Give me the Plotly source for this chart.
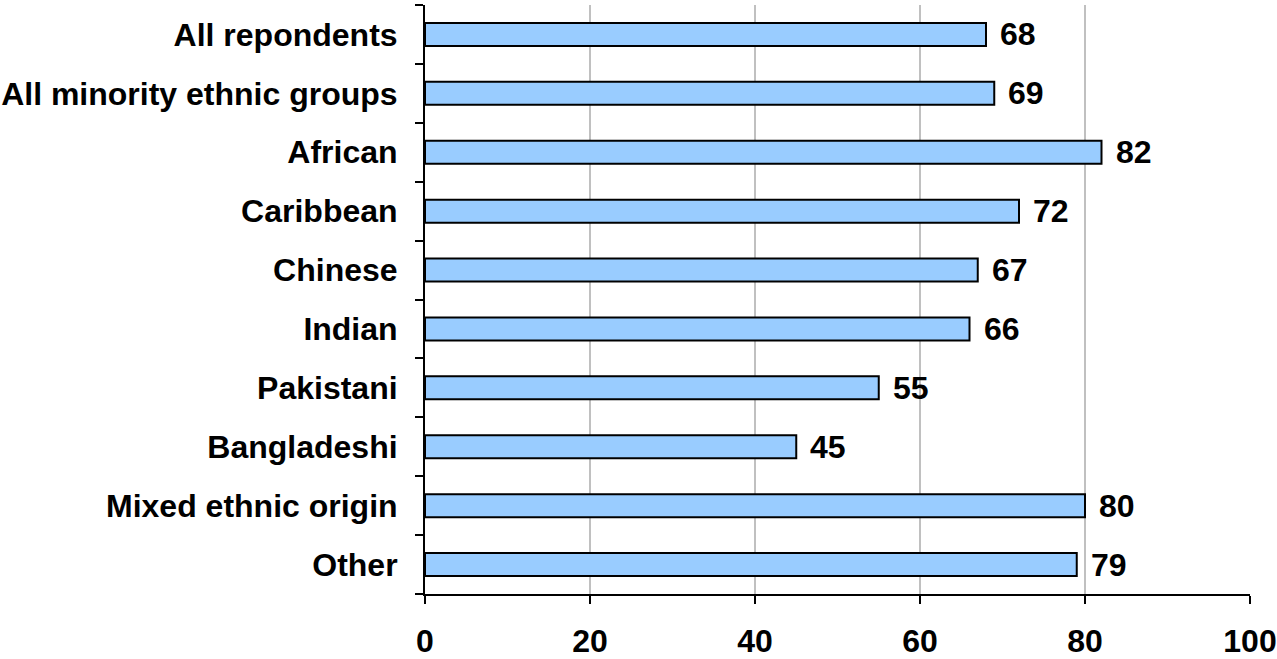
import plotly.graph_objects as go

categories = ["All repondents", "All minority ethnic groups", "African", "Caribbean",
              "Chinese", "Indian", "Pakistani", "Bangladeshi", "Mixed ethnic origin", "Other"]
values = [68, 69, 82, 72, 67, 66, 55, 45, 80, 79]
x_ticks = [0, 20, 40, 60, 80, 100]

FONT = "Liberation Sans, Arial, sans-serif"
FS = 32

fig = go.Figure()
fig.add_trace(go.Bar(
    y=categories, x=values, orientation="h", width=0.39,
    marker=dict(color="#99CCFF", line=dict(color="black", width=2)),
    hoverinfo="skip",
))
for c, v in zip(categories, values):
    fig.add_annotation(x=v, y=c, text=f"<b>{v}</b>", showarrow=False,
                       xanchor="left", xshift=12,
                       font=dict(family=FONT, size=FS, color="black"))

fig.update_layout(
    width=1277, height=659,
    margin=dict(l=425, r=27, t=5, b=65, autoexpand=False),
    paper_bgcolor="white", plot_bgcolor="white",
    showlegend=False,
    font=dict(family=FONT, size=FS, color="black"),
)
fig.update_xaxes(
    range=[0, 100], tickvals=x_ticks, ticktext=[f"<b>{t}</b>" for t in x_ticks],
    showgrid=True, gridcolor="#C0C0C0", gridwidth=2,
    showline=True, linecolor="black", linewidth=2,
    ticks="outside", ticklen=8, tickwidth=2, tickcolor="black",
    ticklabelstandoff=10, zeroline=False,
)
fig.update_yaxes(
    autorange="reversed", type="category",
    tickvals=categories, ticktext=[f"<b>{c}</b>" for c in categories],
    showline=True, linecolor="black", linewidth=2,
    ticks="outside", ticklen=8, tickwidth=2, tickcolor="black",
    tickson="boundaries", ticklabelstandoff=19, showgrid=False,
)

fig.write_html("out.html", config={"displayModeBar": False},
               post_script="document.body.style.margin='0';")
